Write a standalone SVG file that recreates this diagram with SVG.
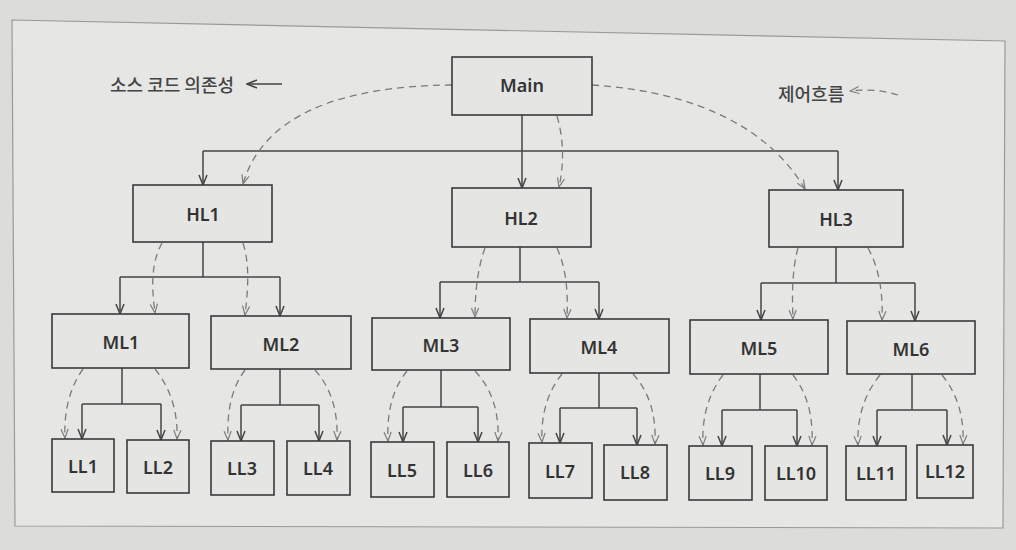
<svg xmlns="http://www.w3.org/2000/svg" width="1016" height="550" viewBox="0 0 1016 550">
<style>
.box{fill:#e5e5e3;stroke:#3a3a3a;stroke-width:1.6}
.lbl{font-family:"Noto Sans","Liberation Sans",sans-serif;font-weight:600;font-size:18px;fill:#333;text-anchor:middle;dominant-baseline:central}
.kr{font-family:"Noto Sans CJK KR","Noto Sans",sans-serif;font-size:18px;font-weight:500;fill:#444;dominant-baseline:central}
.dep{fill:none;stroke:#444;stroke-width:1.5;marker-end:url(#sa)}
.ln{fill:none;stroke:#444;stroke-width:1.5}
.flow{fill:none;stroke:#7a7a7a;stroke-width:1.3;stroke-dasharray:7 5;marker-end:url(#da)}
</style>
<defs>
<marker id="sa" viewBox="0 0 12 10" refX="11" refY="5" markerWidth="12" markerHeight="10" orient="auto" markerUnits="userSpaceOnUse">
<path d="M1,1 L11,5 L1,9" fill="none" stroke="#444" stroke-width="1.5"/>
</marker>
<marker id="da" viewBox="0 0 12 10" refX="11" refY="5" markerWidth="11" markerHeight="9" orient="auto" markerUnits="userSpaceOnUse">
<path d="M1,1 L11,5 L1,9" fill="none" stroke="#7a7a7a" stroke-width="1.3"/>
</marker>
</defs>
<rect x="0" y="0" width="1016" height="550" fill="#dcdcda"/>
<polygon points="12,20 1005,41 1003,528 15,526" fill="#e6e6e4" stroke="#9a9a9a" stroke-width="1.2"/>

<g id="legend">
<text class="kr" x="110" y="84">소스 코드 의존성</text>
<path class="dep" d="M282,84 H247"/>
<text class="kr" x="778" y="93">제어흐름</text>
<path class="flow" d="M898,95 Q876,88 850,91"/>
</g>

<g id="connectors">
<path class="ln" d="M203,151 H838"/>
<path class="dep" d="M522,115 V188"/>
<path class="dep" d="M203,151 V185"/>
<path class="dep" d="M838,151 V190"/>
<path class="ln" d="M203,242 V277 M120,277 H280"/>
<path class="dep" d="M120,277 V314"/>
<path class="dep" d="M280,277 V316"/>
<path class="ln" d="M520,247 V282 M440,282 H599"/>
<path class="dep" d="M440,282 V318"/>
<path class="dep" d="M599,282 V319"/>
<path class="ln" d="M836,247 V283 M761,283 H915"/>
<path class="dep" d="M761,283 V320"/>
<path class="dep" d="M915,283 V321"/>
<path class="ln" d="M122,368 V404 M82,404 H161"/>
<path class="dep" d="M82,404 V439"/>
<path class="dep" d="M161,404 V440"/>
<path class="ln" d="M280,369 V405 M241,405 H319"/>
<path class="dep" d="M241,405 V441"/>
<path class="dep" d="M319,405 V441"/>
<path class="ln" d="M441,370 V407 M403,407 H478"/>
<path class="dep" d="M403,407 V442"/>
<path class="dep" d="M478,407 V442"/>
<path class="ln" d="M599,373 V408 M560,408 H637"/>
<path class="dep" d="M560,408 V443"/>
<path class="dep" d="M637,408 V445"/>
<path class="ln" d="M760,374 V410 M722,410 H797"/>
<path class="dep" d="M722,410 V446"/>
<path class="dep" d="M797,410 V446"/>
<path class="ln" d="M912,374 V410 M877,410 H947"/>
<path class="dep" d="M877,410 V446"/>
<path class="dep" d="M947,410 V445"/>

<path class="flow" d="M452,85 C335,86 262,118 243,184"/>
<path class="flow" d="M557,116 C564,140 564,165 559,187"/>
<path class="flow" d="M592,85 C700,92 770,130 805,189"/>
<path class="flow" d="M162,243 C150,265 152,290 155,313"/>
<path class="flow" d="M243,243 C250,265 248,290 245,315"/>
<path class="flow" d="M485,248 C477,270 475,295 475,317"/>
<path class="flow" d="M557,248 C567,270 568,295 567,318"/>
<path class="flow" d="M798,248 C792,270 792,295 793,319"/>
<path class="flow" d="M868,248 C880,270 883,295 882,320"/>
<path class="flow" d="M83,369 C68,390 64,415 65,438"/>
<path class="flow" d="M155,369 C172,390 178,415 177,439"/>
<path class="flow" d="M245,370 C230,390 227,415 228,440"/>
<path class="flow" d="M315,370 C333,390 338,415 337,440"/>
<path class="flow" d="M407,371 C390,392 387,418 388,441"/>
<path class="flow" d="M475,371 C495,392 499,418 498,441"/>
<path class="flow" d="M562,374 C545,395 541,420 542,442"/>
<path class="flow" d="M633,374 C652,395 656,420 655,444"/>
<path class="flow" d="M723,375 C706,397 702,422 703,445"/>
<path class="flow" d="M793,375 C810,397 813,422 812,445"/>
<path class="flow" d="M880,375 C862,397 857,422 858,445"/>
<path class="flow" d="M942,375 C960,397 964,422 963,444"/>
</g>

<g id="Main"><rect class="box" x="452" y="57" width="140" height="58"/><text class="lbl" x="522" y="85">Main</text></g>
<g id="HL1"><rect class="box" x="133" y="185" width="139" height="57"/><text class="lbl" x="203" y="214">HL1</text></g>
<g id="HL2"><rect class="box" x="452" y="188" width="139" height="59"/><text class="lbl" x="521" y="218">HL2</text></g>
<g id="HL3"><rect class="box" x="769" y="190" width="134" height="57"/><text class="lbl" x="836" y="219">HL3</text></g>
<g id="ML1"><rect class="box" x="52" y="314" width="137" height="54"/><text class="lbl" x="121" y="342">ML1</text></g>
<g id="ML2"><rect class="box" x="211" y="316" width="140" height="53"/><text class="lbl" x="281" y="344">ML2</text></g>
<g id="ML3"><rect class="box" x="372" y="318" width="138" height="52"/><text class="lbl" x="441" y="345">ML3</text></g>
<g id="ML4"><rect class="box" x="530" y="319" width="139" height="54"/><text class="lbl" x="599" y="347">ML4</text></g>
<g id="ML5"><rect class="box" x="690" y="320" width="138" height="54"/><text class="lbl" x="759" y="348">ML5</text></g>
<g id="ML6"><rect class="box" x="847" y="321" width="128" height="53"/><text class="lbl" x="911" y="349">ML6</text></g>
<g id="LL1"><rect class="box" x="52" y="439" width="62" height="53"/><text class="lbl" x="83" y="466">LL1</text></g>
<g id="LL2"><rect class="box" x="127" y="440" width="62" height="53"/><text class="lbl" x="158" y="467">LL2</text></g>
<g id="LL3"><rect class="box" x="211" y="441" width="63" height="54"/><text class="lbl" x="242" y="468">LL3</text></g>
<g id="LL4"><rect class="box" x="287" y="441" width="63" height="54"/><text class="lbl" x="318" y="468">LL4</text></g>
<g id="LL5"><rect class="box" x="371" y="442" width="63" height="55"/><text class="lbl" x="402" y="470">LL5</text></g>
<g id="LL6"><rect class="box" x="447" y="442" width="62" height="55"/><text class="lbl" x="478" y="470">LL6</text></g>
<g id="LL7"><rect class="box" x="529" y="443" width="63" height="55"/><text class="lbl" x="560" y="471">LL7</text></g>
<g id="LL8"><rect class="box" x="604" y="445" width="63" height="55"/><text class="lbl" x="635" y="472">LL8</text></g>
<g id="LL9"><rect class="box" x="689" y="446" width="63" height="54"/><text class="lbl" x="720" y="473">LL9</text></g>
<g id="LL10"><rect class="box" x="765" y="446" width="62" height="54"/><text class="lbl" x="796" y="473">LL10</text></g>
<g id="LL11"><rect class="box" x="846" y="446" width="60" height="54"/><text class="lbl" x="876" y="473">LL11</text></g>
<g id="LL12"><rect class="box" x="917" y="445" width="56" height="53"/><text class="lbl" x="945" y="471">LL12</text></g>
</svg>
